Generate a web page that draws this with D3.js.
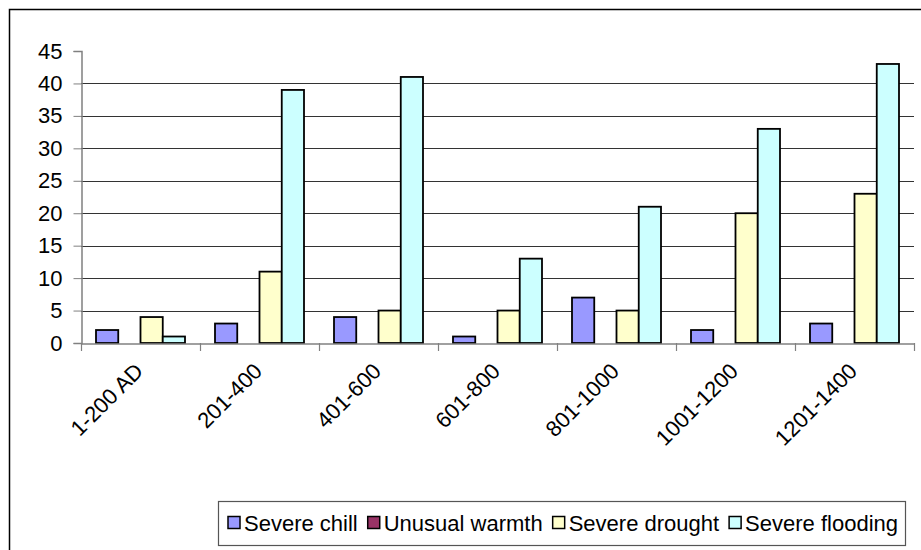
<!DOCTYPE html>
<html>
<head>
<meta charset="utf-8">
<script src="https://cdn.jsdelivr.net/npm/d3@7"></script>
<style>
  html, body { margin: 0; padding: 0; background: #fff; }
  svg { display: block; }
  text { font-family: "Liberation Sans", Arial, sans-serif; fill: #000; }
</style>
</head>
<body>
<svg id="chart" width="921" height="550"></svg>
<script>
const categories = ["1-200 AD", "201-400", "401-600", "601-800", "801-1000", "1001-1200", "1201-1400"];
const seriesNames = ["Severe chill", "Unusual warmth", "Severe drought", "Severe flooding"];
const severeChill = [2, 3, 4, 1, 7, 2, 3];
const unusualWarmth = [0, 0, 0, 0, 0, 0, 0];
const severeDrought = [4, 11, 5, 5, 5, 20, 23];
const severeFlooding = [1, 39, 41, 13, 21, 33, 43];
const seriesColors = ["#9999FF", "#993366", "#FFFFCC", "#CCFFFF"];
const yTicks = [0, 5, 10, 15, 20, 25, 30, 35, 40, 45];

const seriesValues = [severeChill, unusualWarmth, severeDrought, severeFlooding];

const svg = d3.select("#chart");

// outer chart border
svg.append("rect")
  .attr("x", 9.5).attr("y", 9.5)
  .attr("width", 940).attr("height", 580)
  .attr("fill", "#fff").attr("stroke", "#000").attr("stroke-width", 1.5);

const plot = { left: 81, right: 914, top: 51, bottom: 343 };

const x = d3.scaleBand().domain(categories).range([plot.left, plot.right]).paddingInner(0).paddingOuter(0);
const bw = x.bandwidth();
const gap = 15;
const xs = d3.scaleBand().domain(seriesNames).range([gap, bw - gap]).padding(0);
const y = d3.scaleLinear().domain([0, 45]).range([plot.bottom, plot.top]);

// gridlines (not at top)
svg.append("g").selectAll("line")
  .data(yTicks.filter(t => t > 0 && t < 45))
  .join("line")
  .attr("x1", plot.left).attr("x2", plot.right)
  .attr("y1", d => Math.round(y(d)) + 0.5).attr("y2", d => Math.round(y(d)) + 0.5)
  .attr("stroke", "#333").attr("stroke-width", 1);

// bars
const data = [];
categories.forEach((c, i) => {
  seriesNames.forEach((s, j) => {
    data.push({ cat: c, ser: s, val: seriesValues[j][i], color: seriesColors[j] });
  });
});
svg.append("g").selectAll("rect")
  .data(data.filter(d => d.val > 0))
  .join("rect")
  .attr("x", d => x(d.cat) + xs(d.ser))
  .attr("width", xs.bandwidth())
  .attr("y", d => y(d.val))
  .attr("height", d => y(0) - y(d.val))
  .attr("fill", d => d.color)
  .attr("stroke", "#000").attr("stroke-width", 1.8);

// Y axis
const yAxis = d3.axisLeft(y).tickValues(yTicks).tickSize(8).tickPadding(11).tickFormat(d3.format("d"));
const gy = svg.append("g").attr("transform", `translate(${plot.left + 0.5},0)`).call(yAxis);
gy.select(".domain").attr("stroke", "#808080").attr("stroke-width", 1.5);
gy.selectAll(".tick line").attr("stroke", "#808080");
gy.selectAll(".tick text").style("font-size", "22px").attr("font-family", "Liberation Sans, Arial, sans-serif").attr("fill", "#000");

// X axis
const xAxis = d3.axisBottom(x).tickSize(0).tickFormat(d => d);
const gx = svg.append("g").attr("transform", `translate(0,${plot.bottom + 0.5})`).call(xAxis);
gx.select(".domain").attr("stroke", "#808080").attr("stroke-width", 1.5);
gx.selectAll(".tick line").remove();
gx.selectAll(".tick text")
  .style("font-size", "22px")
  .attr("font-family", "Liberation Sans, Arial, sans-serif")
  .attr("fill", "#000")
  .attr("text-anchor", "end")
  .attr("dy", null)
  .attr("y", 0)
  .attr("transform", "translate(4,29) rotate(-45)");
// boundary tick marks
const bounds = categories.map(c => x(c)).concat([plot.right]);
svg.append("g").selectAll("line")
  .data(bounds)
  .join("line")
  .attr("x1", d => d + 0.5).attr("x2", d => d + 0.5)
  .attr("y1", plot.bottom).attr("y2", plot.bottom + 8)
  .attr("stroke", "#808080").attr("stroke-width", 1.2);

// Legend
const lg = svg.append("g");
lg.append("rect")
  .attr("x", 218.5).attr("y", 501.5).attr("width", 687).attr("height", 44)
  .attr("fill", "#fff").attr("stroke", "#555").attr("stroke-width", 1.2);
let lx = 228;
seriesNames.forEach((s, j) => {
  lg.append("rect")
    .attr("x", lx).attr("y", 516.5).attr("width", 12).attr("height", 12)
    .attr("fill", seriesColors[j]).attr("stroke", "#000").attr("stroke-width", 1.5);
  const t = lg.append("text")
    .attr("x", lx + 16).attr("y", 531)
    .style("font-size", "22px")
    .text(s);
  lx += 16 + t.node().getComputedTextLength() + 10;
});
</script>
</body>
</html>
